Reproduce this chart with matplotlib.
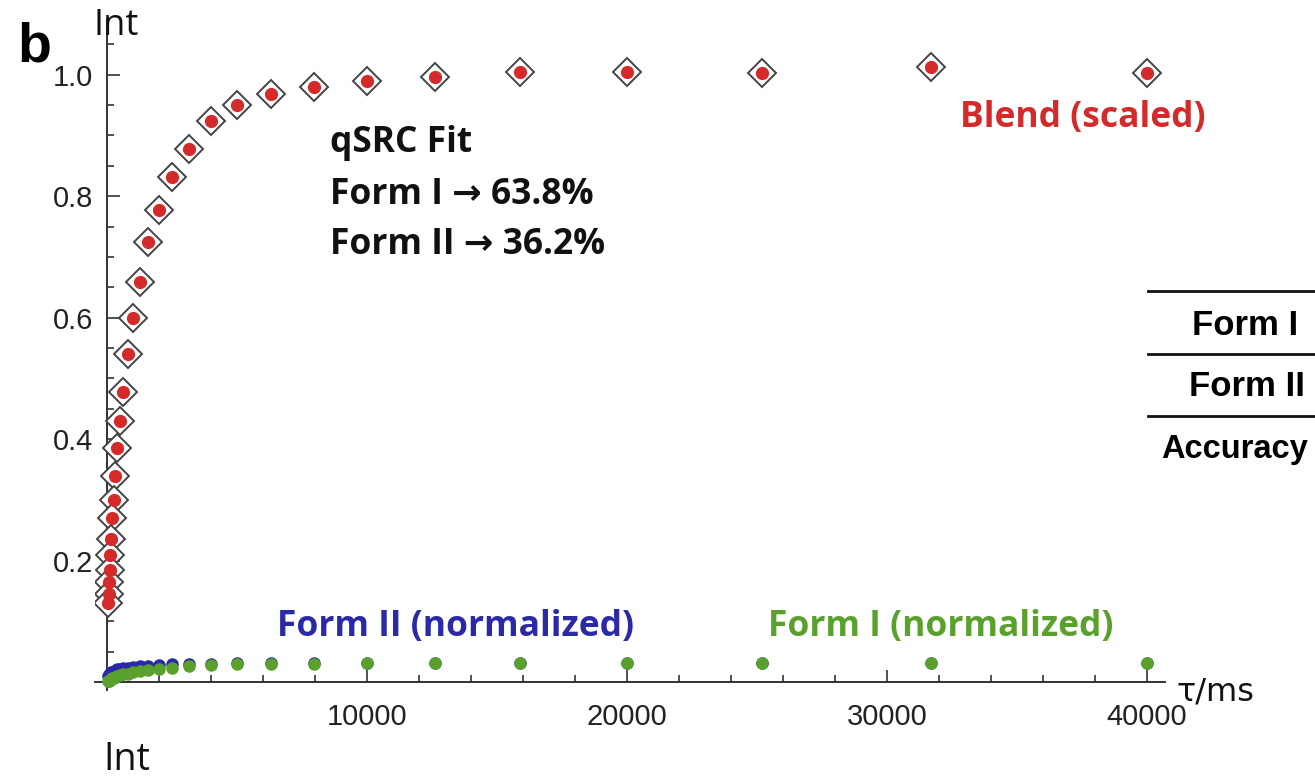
import matplotlib.pyplot as plt
from matplotlib.lines import Line2D
from matplotlib.ticker import MultipleLocator, FixedLocator

# relaxation delays (ms) and normalised intensities
tau = [40000, 31700, 25200, 20000, 15900, 12600, 10000, 7950, 6320, 5020,
       3990, 3170, 2520, 2000, 1590, 1260, 1000, 795, 632, 502,
       399, 317, 252, 200, 159, 126, 100, 79, 63, 50]
blend = [1.002, 1.013, 1.003, 1.004, 1.004, 0.996, 0.990, 0.980, 0.968, 0.950,
         0.923, 0.878, 0.832, 0.777, 0.724, 0.658, 0.600, 0.540, 0.478, 0.430,
         0.385, 0.340, 0.300, 0.270, 0.235, 0.210, 0.185, 0.165, 0.145, 0.130]
form2 = [0.031, 0.031, 0.031, 0.031, 0.031, 0.031, 0.031, 0.031, 0.031, 0.031,
         0.030, 0.030, 0.029, 0.028, 0.027, 0.026, 0.025, 0.024, 0.023, 0.022,
         0.021, 0.019, 0.018, 0.017, 0.016, 0.015, 0.013, 0.012, 0.011, 0.010]
form1 = [0.031, 0.031, 0.031, 0.031, 0.031, 0.031, 0.031, 0.030, 0.030, 0.029,
         0.028, 0.026, 0.024, 0.022, 0.020, 0.018, 0.016, 0.014, 0.013, 0.011,
         0.010, 0.008, 0.007, 0.006, 0.005, 0.004, 0.003, 0.002, 0.002, 0.001]

yticks = [0.2, 0.4, 0.6, 0.8, 1.0]
xticks = [10000, 20000, 30000, 40000]
table_rows = ["Form I", "Form II", "Accuracy"]

RED = "#d42a2a"
BLUE = "#2a2aa8"
GREEN = "#5aa02c"
AXC = "#333333"

W, H = 1315, 779
fig = plt.figure(figsize=(W / 100, H / 100), dpi=100)
ax = fig.add_axes([95 / W, 1 - 690 / H, 1070 / W, 670 / H])

ax.set_xlim(-460, 40690)
ax.set_ylim(-0.013, 1.09)

for s in ["top", "right"]:
    ax.spines[s].set_visible(False)
ax.spines["left"].set_position(("data", 0))
ax.spines["bottom"].set_position(("data", 0))
for s in ["left", "bottom"]:
    ax.spines[s].set_color(AXC)
    ax.spines[s].set_linewidth(1.4)

ax.xaxis.set_major_locator(FixedLocator(xticks))
ax.xaxis.set_minor_locator(MultipleLocator(2000))
ax.yaxis.set_major_locator(FixedLocator(yticks))
ax.yaxis.set_minor_locator(MultipleLocator(0.05))
ax.set_xticklabels([str(v) for v in xticks], family="Liberation Sans")
ax.set_yticklabels([f"{v:.1f}" for v in yticks], family="Liberation Sans")
ax.tick_params(which="both", direction="in", color=AXC, width=1.2,
               labelsize=21, labelcolor="#222222")
ax.tick_params(which="major", length=9)
ax.tick_params(axis="x", which="major", pad=15)
ax.tick_params(axis="y", which="major", pad=10)
ax.tick_params(which="minor", length=5)

# blend: fit (open diamonds) and measured (red dots)
ax.plot(tau, blend, linestyle="none", marker="D", markersize=14,
        markerfacecolor="white", markeredgecolor="#444444", markeredgewidth=1.4,
        zorder=3)
ax.plot(tau, blend, linestyle="none", marker="o", markersize=8.5,
        color=RED, zorder=4)
ax.plot(tau, form2, linestyle="none", marker="o", markersize=8,
        color=BLUE, zorder=4)
ax.plot(tau, form1, linestyle="none", marker="o", markersize=8,
        color=GREEN, zorder=5)

bold_font = dict(family=["Open Sans", "DejaVu Sans"], weight="bold", fontsize=25.5)
fig.text(330 / W, 1 - 143 / H, "qSRC Fit", va="center", ha="left",
         color="#111111", **bold_font)
fig.text(330 / W, 1 - 195 / H, "Form I \u2192 63.8%", va="center", ha="left",
         color="#111111", **bold_font)
fig.text(330 / W, 1 - 245 / H, "Form II \u2192 36.2%", va="center", ha="left",
         color="#111111", **bold_font)
fig.text(1205 / W, 1 - 118 / H, "Blend (scaled)", ha="right", va="center",
         color=RED, **bold_font)
fig.text(277 / W, 1 - 627 / H, "Form II (normalized)", ha="left", va="center",
         color=BLUE, **bold_font)
fig.text(768 / W, 1 - 627 / H, "Form I (normalized)", ha="left", va="center",
         color=GREEN, **bold_font)

# axis labels, Mathematica style
fig.text(116 / W, 1 - 26 / H, "Int", ha="center", va="center", fontsize=26,
         family="Open Sans", color="#111111")
fig.text(1176 / W, 1 - 692 / H, "\u03c4/ms", ha="left", va="center",
         fontsize=23, color="#111111")
fig.text(34 / W, 1 - 48 / H, "b", ha="center", va="center", fontsize=40,
         family="Liberation Sans", weight="bold", color="#000000")
fig.text(127 / W, 1 - 760 / H, "Int", ha="center", va="center", fontsize=27,
         family="Open Sans", color="#111111")

# partial table on the right edge
for yy in [291, 354, 416]:
    fig.add_artist(Line2D([1148 / W, 1.0], [1 - yy / H, 1 - yy / H],
                          color="#111111", linewidth=2.0))
tab_font = dict(family="Liberation Sans", weight="bold", fontsize=25)
fig.text(1245 / W, 1 - 325 / H, table_rows[0], ha="center", va="center", **tab_font)
fig.text(1247 / W, 1 - 387 / H, table_rows[1], ha="center", va="center", **tab_font)
fig.text(1161 / W, 1 - 450 / H, table_rows[2], ha="left", va="center",
         family="Liberation Sans", weight="bold", fontsize=23.5)

fig.savefig("out.png", dpi=100)
